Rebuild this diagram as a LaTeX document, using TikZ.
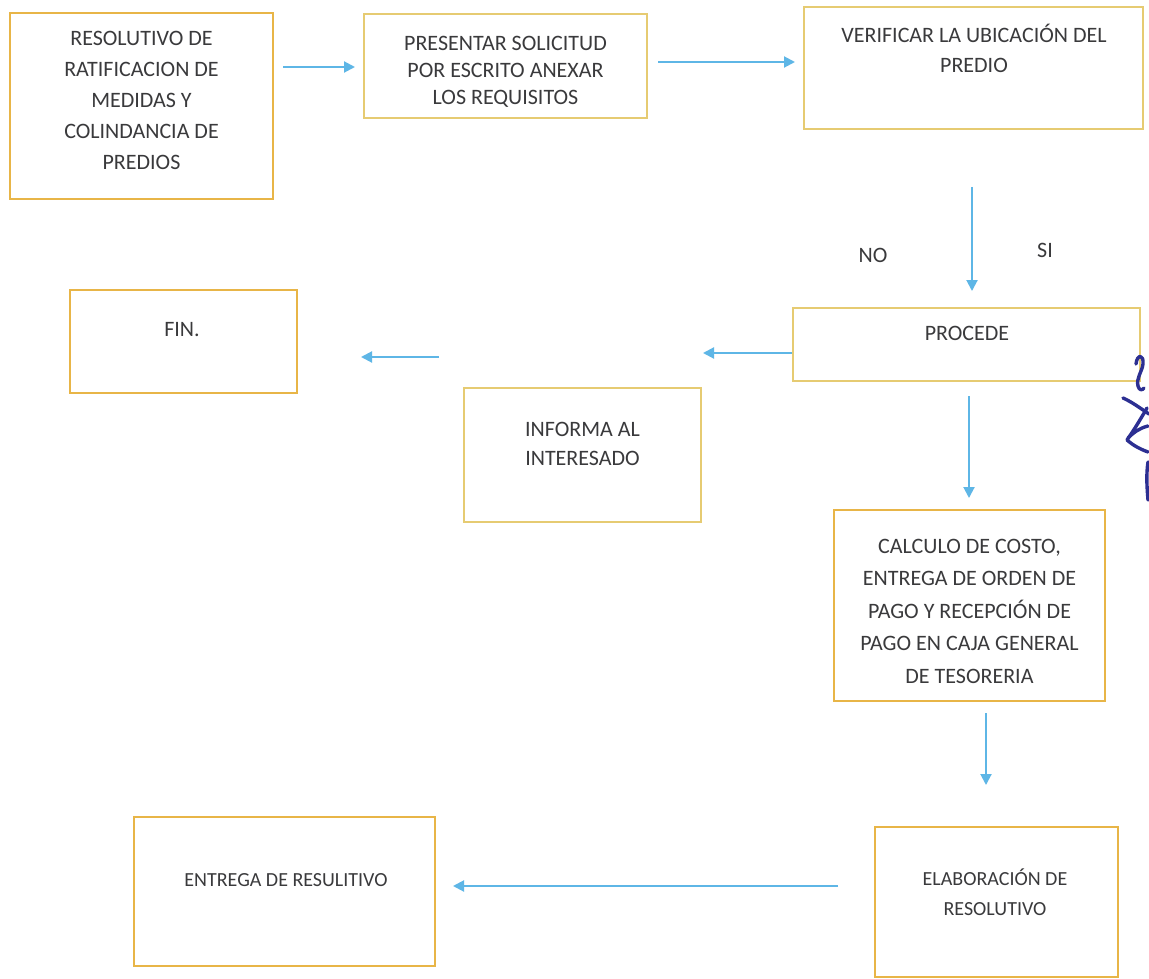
\documentclass[tikz,border=0pt]{standalone}
\usepackage{fontspec}
\setmainfont{Carlito}
\usetikzlibrary{arrows.meta}
\definecolor{boxgold}{HTML}{E8B547}
\definecolor{boxpale}{HTML}{E6CB72}
\definecolor{arrblue}{HTML}{5EB6E6}
\definecolor{txtgray}{HTML}{3A3A3C}
\definecolor{inkblue}{HTML}{2C2F92}
\tikzset{
  flowbox/.style={draw=boxgold, line width=2.2pt, rectangle, inner sep=0pt},
  palebox/.style={flowbox, draw=boxpale, line width=1.8pt},
  txt/.style={align=center, text=txtgray, font=\fontsize{22}{31}\selectfont, inner sep=0pt},
  smalltxt/.style={txt, font=\fontsize{20}{30}\selectfont},
  arr/.style={draw=arrblue, line width=2pt, -{Triangle[length=11pt,width=11pt]}},
  ink/.style={draw=inkblue, line width=3.4pt, line cap=round, line join=round},
}
\begin{document}
\begin{tikzpicture}[x=1pt,y=-1pt]
\useasboundingbox (0,0) rectangle (1149,979);
\fill[white] (0,0) rectangle (1149,979);

% boxes
\node[flowbox, minimum width=263pt, minimum height=186pt] (b1) at (141.5,106) {};
\node[palebox, minimum width=283pt, minimum height=104pt] (b2) at (505.5,66) {};
\node[palebox, minimum width=339pt, minimum height=122pt] (b3) at (973.5,68) {};
\node[flowbox, minimum width=227pt, minimum height=103pt] (fin) at (183.5,341.5) {};
\node[palebox, minimum width=347pt, minimum height=73pt] (proc) at (966.5,344.5) {};
\node[palebox, minimum width=237pt, minimum height=134pt] (inf) at (582.5,455) {};
\node[flowbox, minimum width=271pt, minimum height=191pt] (calc) at (969.5,605.5) {};
\node[flowbox, minimum width=243pt, minimum height=150pt] (elab) at (996.5,902) {};
\node[flowbox, minimum width=301pt, minimum height=149pt] (ent) at (284.5,891.5) {};

% texts
\node[txt] (t1) at (141.5,100) {RESOLUTIVO DE\\RATIFICACION DE\\MEDIDAS Y\\COLINDANCIA DE\\PREDIOS};
\node[txt, font=\fontsize{22}{27}\selectfont] (t2) at (505.5,71.5) {PRESENTAR SOLICITUD\\POR ESCRITO ANEXAR\\LOS REQUISITOS};
\node[txt, font=\fontsize{22}{30}\selectfont] (t3) at (974,48) {VERIFICAR LA UBICACIÓN DEL\\PREDIO};
\node[txt] (tno) at (873,255) {NO};
\node[txt] (tsi) at (1045,250) {SI};
\node[txt] (tfin) at (182,330) {FIN.};
\node[txt] (tproc) at (967,333) {PROCEDE};
\node[txt, font=\fontsize{22}{29}\selectfont] (tinf) at (582.5,444) {INFORMA AL\\INTERESADO};
\node[txt, font=\fontsize{22}{32.5}\selectfont] (tcalc) at (969.5,611) {CALCULO DE COSTO,\\ENTREGA DE ORDEN DE\\PAGO Y RECEPCIÓN DE\\PAGO EN CAJA GENERAL\\DE TESORERIA};
\node[smalltxt] (telab) at (995,892) {ELABORACIÓN DE\\RESOLUTIVO};
\node[smalltxt] (tent) at (286,880) {ENTREGA DE RESULITIVO};

% arrow end points
\coordinate (a1s) at (283,67);  \coordinate (a1e) at (355,67);
\coordinate (a2s) at (658,62);  \coordinate (a2e) at (795,62);
\coordinate (a3s) at (972,187); \coordinate (a3e) at (972,291);
\coordinate (a4e) at (703,353);
\coordinate (a5s) at (439,357); \coordinate (a5e) at (361,357);
\coordinate (a6s) at (969,396); \coordinate (a6e) at (969,498);
\coordinate (a7s) at (986,713); \coordinate (a7e) at (986,785);
\coordinate (a8s) at (838,886); \coordinate (a8e) at (453,886);

\draw[arr] (a1s) -- (a1e);
\draw[arr] (a2s) -- (a2e);
\draw[arr] (a3s) -- (a3e);
\draw[arr] (proc.west |- a4e) -- (a4e);
\draw[arr] (a5s) -- (a5e);
\draw[arr] (a6s) -- (a6e);
\draw[arr] (a7s) -- (a7e);
\draw[arr] (a8s) -- (a8e);

% handwritten mark
\draw[ink]
  (1136,364) .. controls (1137,354) and (1144,354) .. (1143,364)
  .. controls (1142,372) and (1136,378) .. (1138,386)
  .. controls (1139,390) and (1142,391) .. (1144,388);
\draw[ink]
  (1123,398) .. controls (1132,402) and (1140,408) .. (1149,414);
\draw[ink]
  (1147,408) .. controls (1140,420) and (1134,430) .. (1127,440)
  .. controls (1134,446) and (1140,449) .. (1148,452);
\draw[ink]
  (1128,438) .. controls (1134,432) and (1140,428) .. (1148,426);
\draw[ink]
  (1148,462) .. controls (1146,475) and (1147,488) .. (1148,500);
\end{tikzpicture}
\end{document}
